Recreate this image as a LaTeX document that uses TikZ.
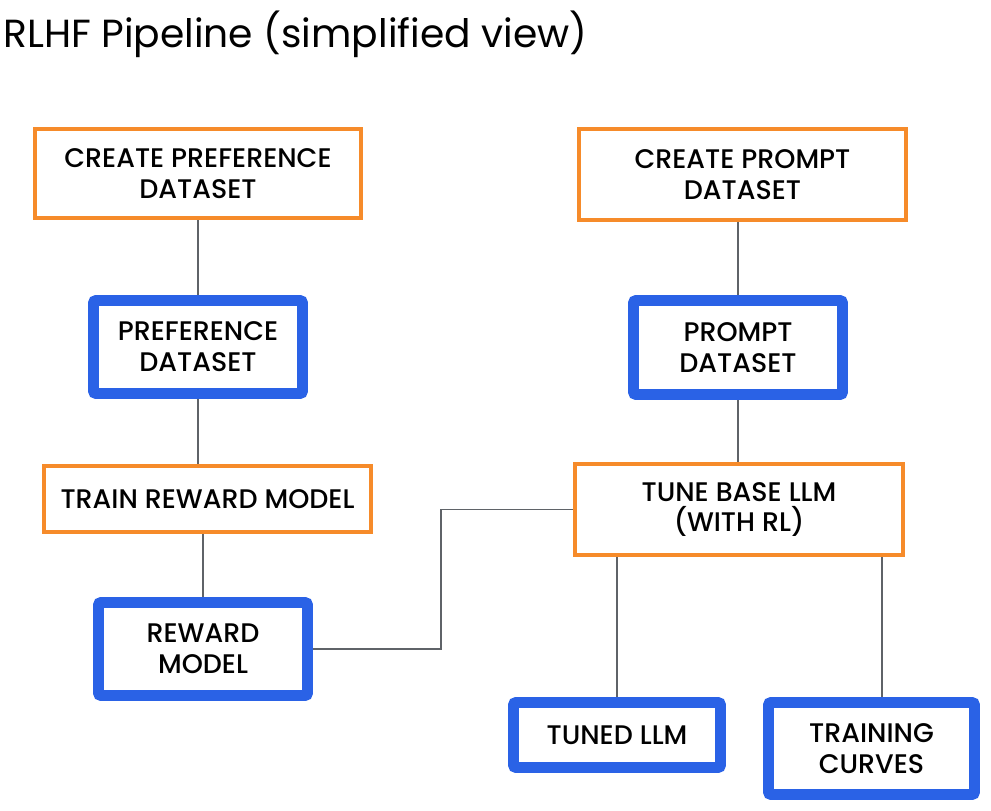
\documentclass[tikz,border=0pt]{standalone}
\usepackage{fontspec}
\setmainfont{Poppins}
\newfontfamily\boxfont{Poppins Medium}
\usetikzlibrary{backgrounds}
\definecolor{taskorange}{HTML}{F68B2A}
\definecolor{datablue}{HTML}{2A62E6}
\definecolor{linkgray}{HTML}{5F6368}
\tikzstyle{task}=[rectangle,draw=taskorange,line width=2.3pt,fill=white,inner sep=0pt,align=center,font=\boxfont\fontsize{15.3}{17.6}\selectfont]
\tikzstyle{data}=[rectangle,draw=datablue,line width=6.2pt,rounded corners=1.5pt,fill=white,inner sep=0pt,align=center,font=\boxfont\fontsize{15.3}{17.6}\selectfont]
\tikzstyle{link}=[draw=linkgray,line width=1.1pt]

\begin{document}
\begin{tikzpicture}
  \useasboundingbox (0,0) rectangle (19.82,-16.22);
  \node[anchor=base west,font=\fontsize{22.3}{26}\selectfont,inner sep=0pt] (title) at (0.06,-0.94) {RLHF Pipeline (simplified view)};

  \node[task,minimum width=6.52cm,minimum height=1.78cm] (cpd) at (3.96,-3.47) {CREATE PREFERENCE\\DATASET};
  \node[data,minimum width=4.18cm,minimum height=1.86cm] (pds) at (3.96,-6.94) {PREFERENCE\\DATASET};
  \node[task,minimum width=6.54cm,minimum height=1.32cm] (trm) at (4.15,-9.98) {TRAIN REWARD MODEL};
  \node[data,minimum width=4.18cm,minimum height=1.86cm] (rm) at (4.06,-12.98) {REWARD\\MODEL};

  \node[task,minimum width=6.54cm,minimum height=1.82cm] (cprd) at (14.85,-3.49) {CREATE PROMPT\\DATASET};
  \node[data,minimum width=4.18cm,minimum height=1.88cm] (prd) at (14.76,-6.95) {PROMPT\\DATASET};
  \node[task,minimum width=6.56cm,minimum height=1.82cm] (tbl) at (14.78,-10.19) {TUNE BASE LLM\\(WITH RL)};
  \node[data,minimum width=4.14cm,minimum height=1.30cm] (tllm) at (12.34,-14.70) {TUNED LLM};
  \node[data,minimum width=4.12cm,minimum height=1.84cm] (tc) at (17.43,-14.97) {TRAINING\\CURVES};

  \coordinate (bend) at (8.82,-11.5);
  \coordinate (tcin) at ([xshift=0.21cm]tc.north);

  \begin{pgfonlayer}{background}
    \draw[link] (cpd) -- (pds);
    \draw[link] (pds.south) -- (pds.south |- trm.north);
    \draw[link] (rm.north) -- (rm.north |- trm.south);
    \draw[link] (rm.east) -- (rm.east -| bend) -- (bend |- tbl.west) -- (tbl.west);
    \draw[link] (prd.north) -- (prd.north |- cprd.south);
    \draw[link] (prd.south) -- (prd.south |- tbl.north);
    \draw[link] (tllm.north) -- (tllm.north |- tbl.south);
    \draw[link] (tcin) -- (tcin |- tbl.south);
  \end{pgfonlayer}
\end{tikzpicture}
\end{document}
